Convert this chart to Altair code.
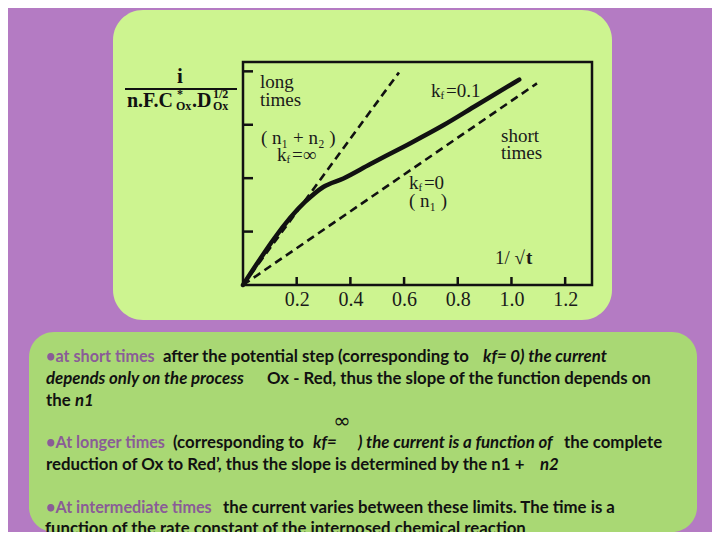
import altair as alt
import pandas as pd

# ---------------- data ----------------
x_ticks = [0.2, 0.4, 0.6, 0.8, 1.0, 1.2]
y_ticks = [0.2, 0.4, 0.6, 0.8]

limit_names = ["n1+n2 (kf=inf)", "n1 (kf=0)"]
limit_x = [[0.0, 0.581], [0.0, 1.095]]
limit_y = [[0.0, 0.796], [0.0, 0.755]]

curve_x = [0.0, 0.231, 0.299, 0.374, 0.473, 0.597, 0.746, 0.870, 1.029]
curve_y = [0.0, 0.311, 0.367, 0.399, 0.452, 0.517, 0.598, 0.673, 0.769]

word_text = ["long", "times", "( n₁ + n₂ )", "short", "times", "( n₁ )", "1/ √"]
word_x = [0.063, 0.063, 0.067, 0.961, 0.961, 0.618, 0.939]
word_y = [0.760, 0.693, 0.550, 0.558, 0.494, 0.315, 0.101]

kf_values = ["=∞", "=0.1", "=0"]
kf_x = [0.127, 0.700, 0.618]
kf_y = [0.487, 0.726, 0.382]

# ---------------- frames ----------------
lim_rows = []
for name, xs, ys in zip(limit_names, limit_x, limit_y):
    for i, (a, b) in enumerate(zip(xs, ys)):
        lim_rows.append({"series": name, "x": a, "y": b, "o": i})
lim_df = pd.DataFrame(lim_rows)
curve_df = pd.DataFrame({"x": curve_x, "y": curve_y, "o": range(len(curve_x))})
words_df = pd.DataFrame({"text": word_text, "x": word_x, "y": word_y})
kf_df = pd.DataFrame({"val": kf_values, "x": kf_x, "y": kf_y})
xt_df = pd.DataFrame({"x": x_ticks})
yt_df = pd.DataFrame({"y": y_ticks})

W, H = 349, 223
XS = alt.Scale(domain=[0, 1.3], nice=False, zero=False)
YS = alt.Scale(domain=[0, 0.835], nice=False, zero=False)
XAX = alt.Axis(values=x_ticks, format=".1f", ticks=False, tickSize=0, domain=False,
               grid=False, title=None, labelFont="Liberation Serif", labelFontSize=20,
               labelColor="#1a1a1a", labelPadding=4, zindex=1)

PURPLE_BG = "#b47bc3"
PURPLE_TXT = "#8a5c97"
SERIF = "Liberation Serif"
FS = 16.8


def X(field="x"):
    return alt.X(f"{field}:Q", scale=XS, axis=XAX)


def Y(field="y"):
    return alt.Y(f"{field}:Q", scale=YS, axis=None)


ONE = alt.Data(values=[{}])


def ptext(s, x, y, color="#111111", italic=False, size=FS, weight="bold",
          font="Lato", align="left", baseline="middle"):
    return alt.Chart(ONE).mark_text(
        text=s, font=font, fontSize=size, fontWeight=weight,
        fontStyle="italic" if italic else "normal", color=color,
        align=align, baseline=baseline
    ).encode(x=alt.value(x), y=alt.value(y))


def panel(x1, x2, y1, y2, color, r):
    return alt.Chart(ONE).mark_rect(color=color, cornerRadius=r).encode(
        x=alt.value(x1), x2=alt.value(x2), y=alt.value(y1), y2=alt.value(y2))


layers = []
# background panels
layers.append(panel(-130, 369, -52, 258, "#cdf490", 30))
layers.append(panel(-214, 454, 270, 470, "#a9d874", 25))

# plot frame
layers.append(alt.Chart(ONE).mark_rect(fillOpacity=0, stroke="#111111", strokeWidth=2.5).encode(
    x=alt.value(0), x2=alt.value(W), y=alt.value(0), y2=alt.value(H)))

# inward ticks
layers.append(alt.Chart(xt_df).mark_rule(color="#111111", strokeWidth=2.5).encode(
    x=X(), y=alt.value(H), y2=alt.value(H - 8)))
layers.append(alt.Chart(yt_df).mark_rule(color="#111111", strokeWidth=2.5).encode(
    y=Y(), x=alt.value(0), x2=alt.value(10)))

# limit lines (dashed)
layers.append(alt.Chart(lim_df).mark_line(color="#111111", strokeWidth=2.6, strokeDash=[8, 5]).encode(
    x=X(), y=Y(), detail="series:N", order="o:Q"))
# kf = 0.1 curve
layers.append(alt.Chart(curve_df).mark_line(color="#111111", strokeWidth=4.5, interpolate="monotone",
                                            strokeCap="round").encode(
    x=X(), y=Y(), order="o:Q"))

# annotations inside plot
layers.append(alt.Chart(words_df).mark_text(font=SERIF, fontSize=19, color="#1a1a1a",
                                            align="left", baseline="middle").encode(
    x=X(), y=Y(), text="text:N"))
layers.append(alt.Chart(words_df.tail(1)).mark_text(font=SERIF, fontSize=19, fontWeight="bold",
                                                    color="#1a1a1a", text="t", dx=31,
                                                    align="left", baseline="middle").encode(
    x=X(), y=Y()))
layers.append(alt.Chart(kf_df).mark_text(font=SERIF, fontSize=19, color="#1a1a1a", text="k",
                                         align="left", baseline="middle").encode(x=X(), y=Y()))
layers.append(alt.Chart(kf_df).mark_text(font=SERIF, fontSize=11, color="#1a1a1a", text="f",
                                         align="left", baseline="middle", dx=9.5, dy=5).encode(x=X(), y=Y()))
layers.append(alt.Chart(kf_df).mark_text(font=SERIF, fontSize=19, color="#1a1a1a",
                                         align="left", baseline="middle", dx=15).encode(
    x=X(), y=Y(), text="val:N"))

# y-axis title fraction
layers.append(ptext("i", -63, 21, font=SERIF, size=21, align="center", baseline="alphabetic"))
layers.append(alt.Chart(ONE).mark_rule(color="#111111", strokeWidth=2).encode(
    x=alt.value(-118), x2=alt.value(-6), y=alt.value(27)))
layers.append(ptext("n.F.C", -116, 45, font=SERIF, size=20, baseline="alphabetic"))
layers.append(ptext("*", -66, 36, font=SERIF, size=12, baseline="alphabetic"))
layers.append(ptext("Ox", -67, 48, font=SERIF, size=12, baseline="alphabetic"))
layers.append(ptext(".D", -51, 45, font=SERIF, size=20, baseline="alphabetic"))
layers.append(ptext("1/2", -30, 36, font=SERIF, size=12, baseline="alphabetic"))
layers.append(ptext("Ox", -30, 48, font=SERIF, size=12, baseline="alphabetic"))

# slide text
PS = 16.2
layers += [
    ptext("•at short times", -197, 295, color=PURPLE_TXT, size=PS),
    ptext("after the potential step (corresponding to", -80, 295),
    ptext("kf= 0) the current", 240, 295, italic=True),
    ptext("depends only on the process", -197, 317, italic=True),
    ptext("Ox - Red, thus the slope of the function depends on", 24, 317),
    ptext("the", -197, 339),
    ptext("n1", -168, 339, italic=True),
    ptext("∞", 99, 360, font="DejaVu Sans", size=21, weight="normal", align="center"),
    ptext("•At longer times", -197, 381, color=PURPLE_TXT, size=PS),
    ptext("(corresponding to", -70, 381),
    ptext("kf=", 70, 381, italic=True),
    ptext(") the current is a function of", 115, 381, italic=True),
    ptext("the complete", 321, 381),
    ptext("reduction of Ox to Red’, thus the slope is determined by the n1 +", -197, 403),
    ptext("n2", 297, 403, italic=True),
    ptext("•At intermediate times", -197, 446, color=PURPLE_TXT, size=PS),
    ptext("the current varies between these limits. The time is a", -20, 446),
    ptext("function of the rate constant of the interposed chemical reaction", -198, 467),
]

chart = alt.layer(*layers).properties(
    width=W, height=H,
    autosize="none",
    padding={"left": 235, "top": 54, "right": 120, "bottom": 247},
    background=PURPLE_BG,
).configure_view(strokeOpacity=0)

chart.save("out.html", embed_options={"renderer": "svg", "actions": False})
